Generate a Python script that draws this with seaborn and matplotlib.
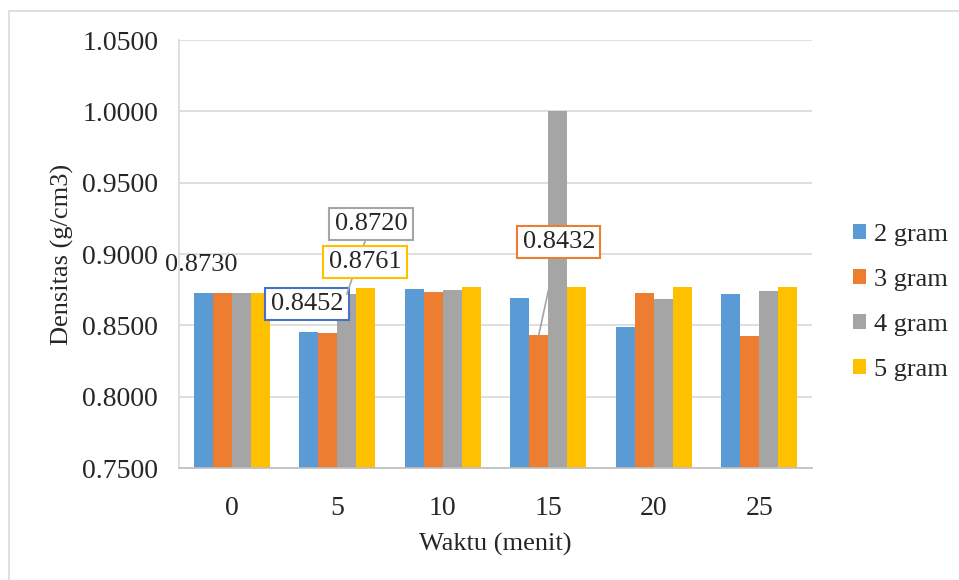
import pandas as pd
import matplotlib.pyplot as plt
import seaborn as sns
from matplotlib.lines import Line2D

waktu = ['0', '5', '10', '15', '20', '25']
series = ['2 gram', '3 gram', '4 gram', '5 gram']
gram_2 = [0.8730, 0.8452, 0.8753, 0.8694, 0.8488, 0.8722]
gram_3 = [0.8730, 0.8447, 0.8736, 0.8432, 0.8727, 0.8425]
gram_4 = [0.8730, 0.8720, 0.8745, 1.0000, 0.8682, 0.8741]
gram_5 = [0.8730, 0.8761, 0.8767, 0.8767, 0.8769, 0.8769]
colors = ['#5B9BD5', '#ED7D31', '#A5A5A5', '#FFC000']

rows = []
for name, vals in zip(series, [gram_2, gram_3, gram_4, gram_5]):
    for w, v in zip(waktu, vals):
        rows.append({'Waktu': w, 'Seri': name, 'Densitas': v})
df = pd.DataFrame(rows)

sns.set_style('white')
plt.rcParams['font.family'] = ['Liberation Serif', 'DejaVu Serif']
fs = 19

fig, ax = plt.subplots(figsize=(9.59, 5.8), dpi=100)
plt.subplots_adjust(left=0.1867, right=0.8467, top=0.931, bottom=0.1931)

sns.barplot(data=df, x='Waktu', y='Densitas', hue='Seri', order=waktu, hue_order=series,
            palette=colors, width=0.72, linewidth=0, saturation=1, ax=ax)

ax.set_ylim(0.75, 1.05)
ax.set_xlim(-0.5, 5.5)
yt = [0.75, 0.80, 0.85, 0.90, 0.95, 1.00, 1.05]
ax.set_yticks(yt)
ax.set_yticklabels(['%.4f' % v for v in yt], fontsize=20)
ax.set_xticks(range(len(waktu)))
ax.set_xticklabels(waktu, fontsize=20)
ax.tick_params(axis='y', length=0, pad=15)
ax.tick_params(axis='x', length=0, pad=20)
ax.yaxis.grid(True, color='#d9d9d9', lw=1.2)
ax.set_axisbelow(True)
for s in ['top', 'right']:
    ax.spines[s].set_visible(False)
ax.spines['left'].set_color('#d9d9d9')
ax.spines['bottom'].set_color('#bfbfbf')
ax.spines['left'].set_linewidth(1.2)
ax.spines['bottom'].set_linewidth(1.2)

ax.set_xlabel('Waktu (menit)', fontsize=fs, labelpad=9)
ax.set_ylabel('Densitas (g/cm3)', fontsize=fs, labelpad=6)

# data labels
ax.text(-0.29, 0.8923, '%.4f' % gram_2[0], fontsize=fs, ha='center', va='center')
box = dict(boxstyle='square,pad=0.2', fc='white', lw=1.5)
ax.annotate('%.4f' % gram_2[1], xy=(0.713, 0.865), fontsize=fs, ha='center', va='center',
            bbox=dict(box, ec='#4472C4'))
ax.annotate('%.4f' % gram_4[1], xy=(1 + 0.09, gram_4[1]), xytext=(1.32, 0.921),
            fontsize=fs, ha='center', va='center', bbox=dict(box, ec='#A5A5A5'),
            arrowprops=dict(arrowstyle='-', color='#A5A5A5', lw=1.2, shrinkA=0, shrinkB=0))
ax.annotate('%.4f' % gram_5[1], xy=(1.263, 0.8944), fontsize=fs, ha='center', va='center',
            bbox=dict(box, ec='#FFC000'))
ax.annotate('%.4f' % gram_3[3], xy=(3 - 0.09, gram_3[3]), xytext=(3.10, 0.9084),
            fontsize=fs, ha='center', va='center', bbox=dict(box, ec='#ED7D31'),
            arrowprops=dict(arrowstyle='-', color='#A5A5A5', lw=1.2, shrinkA=0, shrinkB=0),
            zorder=1)

handles, labels = ax.get_legend_handles_labels()
ax.legend(handles, labels, loc='center left', bbox_to_anchor=(0.889, 0.478),
          bbox_transform=fig.transFigure, frameon=False, fontsize=fs,
          handlelength=0.5, handleheight=0.5, handletextpad=0.3, labelspacing=0.87,
          borderpad=0, borderaxespad=0)

# chart area border (left and top edges)
fig.add_artist(Line2D([9 / 959, 9 / 959], [0, 1 - 11 / 580], transform=fig.transFigure, color='#d9d9d9', lw=1.2))
fig.add_artist(Line2D([9 / 959, 1], [1 - 11 / 580, 1 - 11 / 580], transform=fig.transFigure, color='#d9d9d9', lw=1.2))

plt.savefig('out.png', dpi=100)
plt.close()
